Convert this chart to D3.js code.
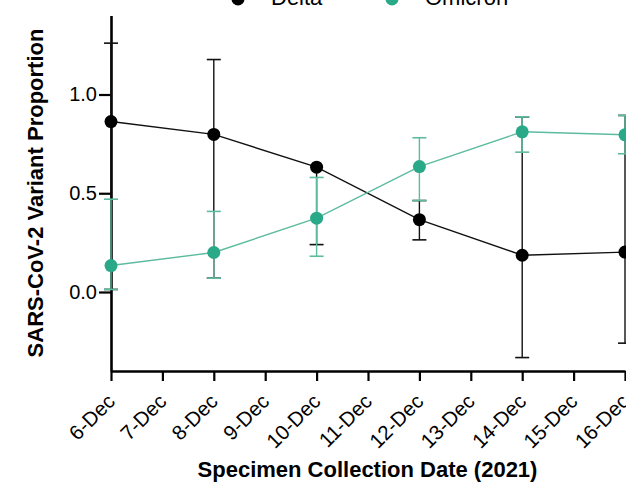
<!DOCTYPE html>
<html>
<head>
<meta charset="utf-8">
<script src="https://cdn.jsdelivr.net/npm/d3@7"></script>
<style>
html,body{margin:0;padding:0;background:#fff;overflow:hidden;}
svg{display:block;font-family:"Liberation Sans",Arial,sans-serif;}
</style>
</head>
<body>
<svg id="chart" width="626" height="491"></svg>
<script>
// ---- data ----
const tickDates = ["6-Dec","7-Dec","8-Dec","9-Dec","10-Dec","11-Dec","12-Dec","13-Dec","14-Dec","15-Dec","16-Dec"];
const sampleDates = ["6-Dec","8-Dec","10-Dec","12-Dec","14-Dec","16-Dec"];
const deltaValues = [0.863, 0.798, 0.632, 0.366, 0.186, 0.202];
const deltaLower  = [0.013, 0.070, 0.240, 0.264, -0.332, -0.259];
const deltaUpper  = [1.260, 1.177, 0.632, 0.463, 0.887, 0.894];
const omicronValues = [0.134, 0.200, 0.374, 0.635, 0.811, 0.796];
const omicronLower  = [0.013, 0.070, 0.181, 0.463, 0.708, 0.700];
const omicronUpper  = [0.470, 0.408, 0.580, 0.781, 0.887, 0.894];
const yTicks = [0, 0.5, 1.0];
const seriesNames = ["Delta", "Omicron"];

const svg = d3.select("#chart");
const x = d3.scalePoint().domain(tickDates).range([111, 625]);
const y = d3.scaleLinear().domain([-0.4, 1.4]).range([371, 15.5]);

const colors = {Delta: "#000000", Omicron: "#2aa988"};
const lineColors = {Delta: "#111111", Omicron: "#5dbb9f"};

function build(vals, lo, hi) {
  return sampleDates.map((d, i) => ({date: d, v: vals[i], lo: lo[i], hi: hi[i]}));
}
const series = [
  {name: "Delta", data: build(deltaValues, deltaLower, deltaUpper)},
  {name: "Omicron", data: build(omicronValues, omicronLower, omicronUpper)}
];

// axes
const yAxis = svg.append("g").attr("transform", "translate(111,0)")
  .call(d3.axisLeft(y).tickValues(yTicks).tickFormat(d3.format(".1f")).tickSize(12).tickSizeOuter(0).tickPadding(2));
yAxis.select(".domain").attr("stroke-width", 2.6);
yAxis.selectAll(".tick line").attr("stroke-width", 2.2);
yAxis.selectAll(".tick text").attr("font-size", 20).attr("fill", "#000").attr("font-family", "Liberation Sans, Arial, sans-serif");

const xAxis = svg.append("g").attr("transform", "translate(0,371)")
  .call(d3.axisBottom(x).tickSize(10).tickSizeOuter(0));
xAxis.select(".domain").attr("stroke-width", 2.6);
xAxis.selectAll(".tick line").attr("stroke-width", 2.2);
xAxis.selectAll(".tick text")
  .attr("font-size", 20.5).attr("fill", "#000").attr("font-family", "Liberation Sans, Arial, sans-serif")
  .attr("text-anchor", "end")
  .attr("transform", "translate(-6,21) rotate(-45)")
  .attr("x", 0).attr("y", 8).attr("dy", "0.35em");

// series
const capW = 7;
series.forEach(s => {
  const g = svg.append("g");
  const c = colors[s.name], lc = lineColors[s.name];
  // error bars
  const eb = g.selectAll(".eb").data(s.data).enter().append("g");
  eb.append("line").attr("x1", d => x(d.date)).attr("x2", d => x(d.date))
    .attr("y1", d => y(d.lo)).attr("y2", d => y(d.hi)).attr("stroke", lc).attr("stroke-width", 1.4);
  eb.filter(d => d.hi > d.v).append("line").attr("x1", d => x(d.date) - capW).attr("x2", d => x(d.date) + capW)
    .attr("y1", d => y(d.hi)).attr("y2", d => y(d.hi)).attr("stroke", lc).attr("stroke-width", 1.6);
  eb.append("line").attr("x1", d => x(d.date) - capW).attr("x2", d => x(d.date) + capW)
    .attr("y1", d => y(d.lo)).attr("y2", d => y(d.lo)).attr("stroke", lc).attr("stroke-width", 1.6);
  // line
  g.append("path").datum(s.data)
    .attr("d", d3.line().x(d => x(d.date)).y(d => y(d.v)))
    .attr("fill", "none").attr("stroke", lc).attr("stroke-width", 1.4);
  // dots
  g.selectAll("circle").data(s.data).enter().append("circle")
    .attr("cx", d => x(d.date)).attr("cy", d => y(d.v)).attr("r", 6.5).attr("fill", c);
});

// legend
const legendX = [238, 392];
seriesNames.forEach((n, i) => {
  svg.append("circle").attr("cx", legendX[i]).attr("cy", -1).attr("r", 6.5).attr("fill", colors[n]);
  svg.append("text").attr("x", legendX[i] + 33).attr("y", 5).attr("font-size", 22).attr("fill", "#000").text(n);
});

// axis titles
svg.append("text").attr("transform", "translate(43,193) rotate(-90)")
  .attr("text-anchor", "middle").attr("font-size", 22).attr("font-weight", "bold").text("SARS-CoV-2 Variant Proportion");
svg.append("text").attr("x", 367.5).attr("y", 477)
  .attr("text-anchor", "middle").attr("font-size", 22).attr("font-weight", "bold").text("Specimen Collection Date (2021)");
</script>
</body>
</html>
